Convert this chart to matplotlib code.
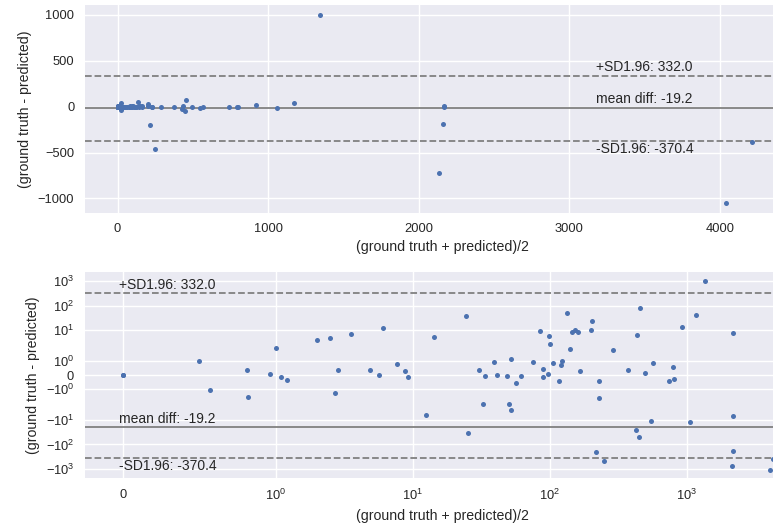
import matplotlib
matplotlib.use("Agg")
import matplotlib.pyplot as plt

# Bland-Altman data: mean of (ground truth, predicted) and their difference
x_mean = [0, 0, 0.5, 0.57, 0.81, 0.82, 0.965, 1.0, 1.10, 1.21,
          2.0, 2.5, 2.69, 2.83, 3.57, 4.85, 5.64, 6.07, 7.68, 8.83,
          9.24, 12.5, 14.4, 24.6, 25.1, 30.2, 32.4, 33.5, 38.9, 40.9,
          49.0, 50.1, 51.8, 51.8, 57.0, 61.2, 74.9, 85.3, 88.6, 88.6,
          96.4, 98.0, 100.9, 106, 116, 120, 122, 134, 141, 145,
          152, 160, 165, 201, 204, 218, 230, 230, 247, 287,
          372, 432, 427, 450, 457, 497, 550, 566, 740, 792,
          800, 921, 1059, 1172, 1345, 2168, 2168, 2160, 2133, 4215,
          4038]
diff = [0, 0, 1.0, -1.09, 0.36, -1.58, 0.07, 2.0, -0.12, -0.36,
        4.05, 4.88, -1.29, 0.36, 7.08, 0.36, 0.0, 12.0, 0.80, 0.29,
        -0.15, -6.4, 5.2, 38, -34, 0.36, -2.3, -0.07, 0.95, 0.0,
        -0.07, -2.3, 1.17, -4.05, -0.58, -0.07, 0.95, 9.4, 0.44, -0.15,
        0.07, 5.9, 2.8, 0.87, -0.44, 0.73, 1.04, 49, 1.9, 8.3,
        10.3, 8.5, 0.29, 10.3, 24, -197, -0.44, -1.65, -460, 1.82,
        0.36, 6.4, -26, -49, 78, 0.15, -11, 0.87, -0.44, 0.58,
        -0.29, 13.2, -12.4, 41.6, 1000, 7.8, -6.9, -185, -728, -382,
        -1050]

mean_diff = -19.2
upper_sd = 332.0
lower_sd = -370.4

plt.rcParams.update({
    "font.family": "sans-serif",
    "font.sans-serif": ["Liberation Sans", "DejaVu Sans"],
    "axes.facecolor": "#EAEAF2",
    "axes.edgecolor": "white",
    "axes.grid": True,
    "axes.grid.which": "major",
    "grid.color": "white",
    "grid.linewidth": 1.0,
    "axes.axisbelow": True,
    "text.color": ".15",
    "axes.labelcolor": ".15",
    "xtick.color": ".15",
    "ytick.color": ".15",
    "xtick.major.size": 0,
    "ytick.major.size": 0,
    "xtick.minor.size": 0,
    "ytick.minor.size": 0,
    "xtick.major.pad": 7.2,
    "ytick.major.pad": 7.7,
    "xtick.labelsize": 9.3,
    "ytick.labelsize": 9.3,
    "axes.labelsize": 10.2,
})

W, H = 773, 526
fig = plt.figure(figsize=(W / 100, H / 100), dpi=100)
fig.patch.set_facecolor("white")

def px_axes(left, top, right, bottom):
    return fig.add_axes([left / W, 1 - bottom / H, (right - left) / W, (bottom - top) / H])

ax1 = px_axes(85, 5, 800, 212.7)
ax2 = px_axes(85, 271.7, 800, 478)

blue = "#4C72B0"
line_kw = dict(color="gray", lw=1.3)

for ax in (ax1, ax2):
    for s in ax.spines.values():
        s.set_visible(False)
    ax.scatter(x_mean, diff, s=13, color=blue, zorder=3, linewidths=0)
    ax.axhline(mean_diff, linestyle="-", **line_kw)
    ax.axhline(upper_sd, linestyle="--", **line_kw)
    ax.axhline(lower_sd, linestyle="--", **line_kw)
    ax.set_xlabel("(ground truth + predicted)/2")
    ax.set_ylabel("(ground truth - predicted)")

ax1.set_xlim(-216.5, 4532)
ax1.set_ylim(-1156, 1109)
ax1.set_xticks([0, 1000, 2000, 3000, 4000])
ax1.set_yticks([-1000, -500, 0, 500, 1000])

ax2.set_xscale("symlog", linthresh=1)
ax2.set_yscale("symlog", linthresh=2)
ax2.set_xlim(-0.2515, 6683)
ax2.set_ylim(-2290, 2350)

txt_kw = dict(fontsize=10, color=".15")
tx1 = 3180
ax1.text(tx1, upper_sd + 25, f"+SD1.96: {upper_sd:.1f}", va="bottom", ha="left", **txt_kw)
ax1.text(tx1, mean_diff + 25, f"mean diff: {mean_diff:.1f}", va="bottom", ha="left", **txt_kw)
ax1.text(tx1, lower_sd - 15, f"-SD1.96: {lower_sd:.1f}", va="top", ha="left", **txt_kw)

tx2 = -0.03
ax2.text(tx2, upper_sd * 1.05, f"+SD1.96: {upper_sd:.1f}", va="bottom", ha="left", **txt_kw)
ax2.text(tx2, mean_diff * 0.93, f"mean diff: {mean_diff:.1f}", va="bottom", ha="left", **txt_kw)
ax2.text(tx2, lower_sd * 1.1, f"-SD1.96: {lower_sd:.1f}", va="top", ha="left", **txt_kw)

fig.savefig("out.png", dpi=100, facecolor="white")
plt.close(fig)
